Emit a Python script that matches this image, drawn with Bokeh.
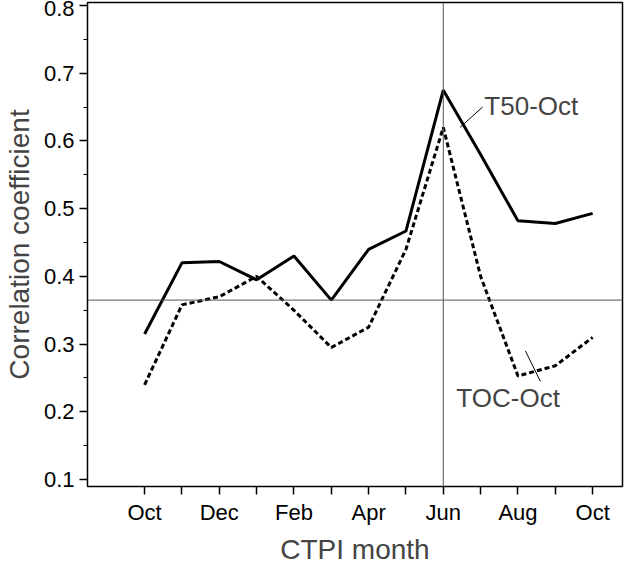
from bokeh.plotting import figure
from bokeh.embed import file_html
from bokeh.resources import INLINE
from bokeh.models import Span, FixedTicker, Label

months = ["Oct","Nov","Dec","Jan","Feb","Mar","Apr","May","Jun","Jul","Aug","Sep","Oct"]
t50 = [0.315,0.420,0.422,0.395,0.430,0.365,0.440,0.467,0.675,0.580,0.482,0.478,0.493]
toc = [0.240,0.358,0.370,0.400,0.350,0.295,0.325,0.440,0.620,0.400,0.253,0.268,0.310]
xs = list(range(len(months)))

p = figure(width=624, height=567, output_backend="svg", toolbar_location=None,
           x_range=(-1.53, 12.8), y_range=(0.0898, 0.8044),
           min_border_left=80, min_border_top=2, min_border_right=2, min_border_bottom=75)
p.grid.visible = False
p.outline_line_color = "black"
p.outline_line_width = 1.5

p.line(xs, t50, line_color="black", line_width=3)
p.line(xs, toc, line_color="black", line_width=3, line_dash="5 3")
p.add_layout(Span(location=0.365, dimension="width", line_color="#555555", line_width=1))
p.add_layout(Span(location=8, dimension="height", line_color="#555555", line_width=1))

p.segment(x0=[8.45], y0=[0.62], x1=[9.05], y1=[0.65], line_color="black", line_width=1)
p.segment(x0=[10.6], y0=[0.245], x1=[10.2], y1=[0.29], line_color="black", line_width=1)
p.add_layout(Label(x=9.1, y=0.652, text="T50-Oct", text_font="Liberation Sans", text_font_size="26px", text_baseline="middle"))
p.add_layout(Label(x=8.35, y=0.22, text="TOC-Oct", text_font="Liberation Sans", text_font_size="26px", text_baseline="middle"))

p.xaxis.ticker = FixedTicker(ticks=xs)
p.xaxis.major_label_overrides = {i: (m if i % 2 == 0 else "") for i, m in enumerate(months)}
p.yaxis.ticker = FixedTicker(ticks=[0.1,0.2,0.3,0.4,0.5,0.6,0.7,0.8],
                             minor_ticks=[0.15,0.25,0.35,0.45,0.55,0.65,0.75])
p.yaxis.formatter.use_scientific = False
p.xaxis.axis_label = "CTPI month"
p.yaxis.axis_label = "Correlation coefficient"
for ax in (p.xaxis, p.yaxis):
    ax.axis_label_text_font = "Liberation Sans"
    ax.axis_label_text_font_style = "normal"
    ax.axis_label_text_font_size = "28px"
    ax.major_label_text_font = "Liberation Sans"
    ax.major_label_text_font_size = "22px"
    ax.major_label_text_color = "black"
    ax.axis_line_color = None
    ax.major_tick_line_color = "black"
    ax.major_tick_line_width = 1.5
    ax.major_tick_out = 8
    ax.major_tick_in = 0
    ax.minor_tick_out = 4
    ax.minor_tick_in = 0
    ax.axis_label_standoff = 6
p.xaxis.minor_tick_line_color = None

open("out.html", "w").write(file_html(p, INLINE))
